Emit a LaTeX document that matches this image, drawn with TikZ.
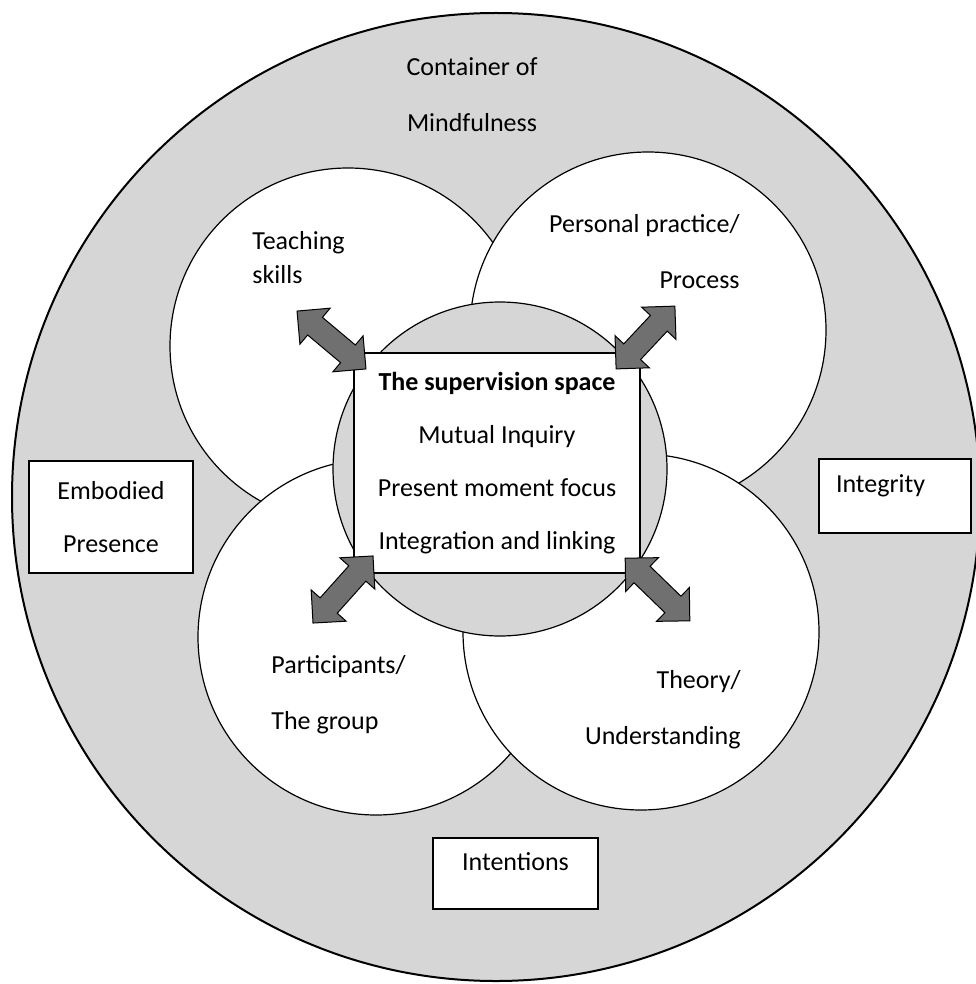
\documentclass[tikz,border=0pt]{standalone}
\usepackage{fontspec}
\setmainfont{Carlito}
\usepackage{xcolor}
\usepackage{tikz}
\usetikzlibrary{shapes,calc}

\definecolor{ringgray}{gray}{0.84}
\definecolor{arrowgray}{gray}{0.44}

\begin{document}
\begin{tikzpicture}[x=0.5pt, y=-0.5pt, font=\fontsize{13}{28}\selectfont,
		petal/.style={circle, draw, line width=0.6pt, fill=white, minimum size=178pt, inner sep=0pt},
		labelbox/.style={rectangle, draw, line width=0.9pt, fill=white, inner sep=0pt},
		twoway/.style={double arrow, draw, line width=0.5pt, fill=arrowgray, inner xsep=0pt, inner ysep=5.5pt,
			minimum width=23pt, minimum height=45pt, double arrow head extend=6pt},
		caption/.style={inner sep=0pt}]
	\useasboundingbox (0,0) rectangle (975,984);
		\begin{scope}
			% outer ring
			\node [circle, draw, line width=1pt, fill=ringgray, minimum size=484pt, inner sep=0pt] (container) at (496,497) {};
			\node [caption, align=center] (containertext) at (472,95) {Container of\\Mindfulness};

			% four petals, drawn in stacking order
			\node [petal] (teach) at (348,346) {};
			\node [petal] (practice) at (648,330) {};
			\node [petal] (group) at (376,637) {};
			\node [petal] (theory) at (641,632) {};

			% the middle
			\node [circle, draw, line width=0.6pt, fill=ringgray, minimum size=167pt, inner sep=0pt] (hub) at (500,469) {};
			\node [labelbox, line width=1pt, minimum width=143pt, minimum height=110pt, align=center,
				font=\fontsize{13}{26.5}\selectfont] (space) at (497,463)
				{\textbf{The supervision space}\\Mutual Inquiry\\Present moment focus\\Integration and linking};

			\node [twoway, rotate=-40] (teacharrow) at (331.5,340) {};
			\node [twoway, rotate=46.9, minimum height=43pt] (practicearrow) at (645.5,337.5) {};
			\node [twoway, rotate=48.2] (grouparrow) at (343,589.5) {};
			\node [twoway, rotate=-44.1] (theoryarrow) at (657.5,589.5) {};

			\node [caption, align=left, anchor=west, font=\fontsize{13}{17}\selectfont] (teachtext) at (252,258) {Teaching\\skills};
			\node [caption, align=right, anchor=east] (practicetext) at (740,252) {Personal practice/\\Process};
			\node [caption, align=left, anchor=west] (grouptext) at (271,695) {Participants/\\The group};
			\node [caption, align=right, anchor=east] (theorytext) at (741,710) {Theory/\\Understanding};

			% boxes on the ring
			\node [labelbox, minimum width=82pt, minimum height=56pt, align=center,
				font=\fontsize{13}{26.5}\selectfont] (embodied) at (111,517) {Embodied\\Presence};
			\node [labelbox, text width=59pt, inner xsep=8.5pt, minimum height=37pt, align=left,
				text height=8.5pt, text depth=12pt] (integrity) at (895,496) {Integrity};
			\node [labelbox, minimum width=82.5pt, minimum height=35.5pt, align=center,
				text height=8.5pt, text depth=12pt] (intentions) at (515.5,873.5) {Intentions};
		\end{scope}
\end{tikzpicture}
\end{document}
